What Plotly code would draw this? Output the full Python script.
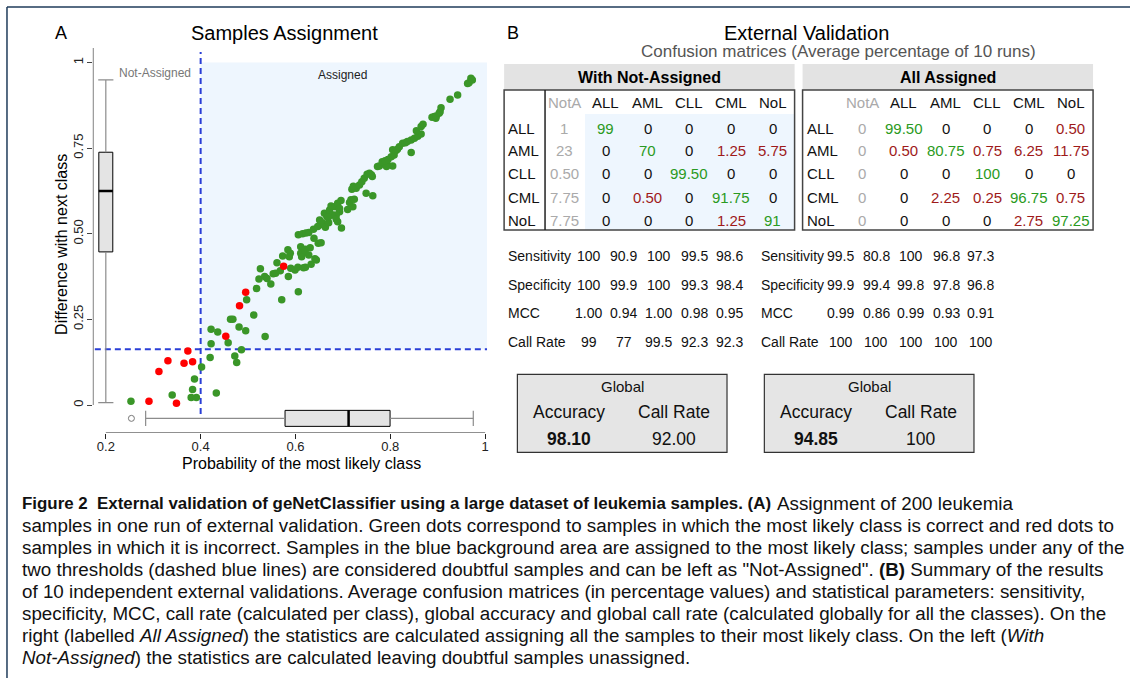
import plotly.graph_objects as go

W, H = 1132, 678

# ---------------- Panel A data ----------------
green_x = [0.253, 0.340, 0.380, 0.391, 0.383, 0.387, 0.402, 0.433, 0.420, 0.422, 0.422, 0.436, 0.458, 0.472,
           0.476, 0.486, 0.463, 0.468, 0.481, 0.495, 0.497, 0.512, 0.536, 0.518, 0.523, 0.526, 0.535, 0.540,
           0.548, 0.571, 0.606, 0.553, 0.558, 0.561, 0.568, 0.585, 0.590, 0.599, 0.605, 0.617, 0.621, 0.633,
           0.644, 0.641, 0.573, 0.584, 0.589, 0.587, 0.611, 0.615, 0.621, 0.631, 0.611, 0.620, 0.613, 0.628,
           0.639, 0.648, 0.654, 0.606, 0.615, 0.622, 0.628, 0.638, 0.647, 0.653, 0.657, 0.663, 0.697, 0.651,
           0.661, 0.666, 0.670, 0.679, 0.689, 0.672, 0.675, 0.684, 0.689, 0.696, 0.693, 0.686, 0.710, 0.721,
           0.714, 0.717, 0.724, 0.749, 0.763, 0.719, 0.728, 0.722, 0.735, 0.740, 0.745, 0.751, 0.762, 0.756,
           0.760, 0.777, 0.784, 0.794, 0.805, 0.792, 0.773, 0.783, 0.789, 0.795, 0.802, 0.808, 0.805, 0.812,
           0.815, 0.819, 0.844, 0.826, 0.832, 0.836, 0.844, 0.851, 0.858, 0.865, 0.855, 0.865, 0.869, 0.888,
           0.896, 0.893, 0.897, 0.903, 0.905, 0.907, 0.926, 0.942, 0.963, 0.966, 0.970, 0.973, 0.676, 0.686,
           0.693, 0.669]
green_y = [0.011, 0.029, 0.022, 0.022, 0.045, 0.076, 0.111, 0.035, 0.139, 0.179, 0.221, 0.213, 0.182, 0.143,
           0.124, 0.161, 0.250, 0.250, 0.228, 0.217, 0.307, 0.263, 0.200, 0.340, 0.368, 0.398, 0.375, 0.369,
           0.353, 0.307, 0.331, 0.383, 0.385, 0.415, 0.392, 0.375, 0.399, 0.394, 0.402, 0.401, 0.402, 0.411,
           0.423, 0.427, 0.435, 0.453, 0.443, 0.433, 0.462, 0.453, 0.455, 0.459, 0.443, 0.445, 0.433, 0.438,
           0.487, 0.472, 0.474, 0.497, 0.500, 0.502, 0.504, 0.513, 0.521, 0.527, 0.532, 0.519, 0.517, 0.540,
           0.560, 0.550, 0.532, 0.555, 0.535, 0.569, 0.581, 0.579, 0.589, 0.597, 0.564, 0.555, 0.571, 0.579,
           0.591, 0.599, 0.601, 0.618, 0.611, 0.630, 0.633, 0.639, 0.642, 0.652, 0.662, 0.674, 0.667, 0.677,
           0.672, 0.698, 0.706, 0.701, 0.698, 0.696, 0.696, 0.710, 0.713, 0.717, 0.725, 0.730, 0.745, 0.743,
           0.747, 0.754, 0.737, 0.764, 0.766, 0.769, 0.774, 0.779, 0.785, 0.791, 0.801, 0.813, 0.820, 0.840,
           0.837, 0.842, 0.844, 0.852, 0.856, 0.868, 0.893, 0.905, 0.939, 0.941, 0.954, 0.949, 0.555, 0.542,
           0.574, 0.548]
red_x = [0.291, 0.349, 0.312, 0.331, 0.365, 0.383, 0.373, 0.453, 0.482, 0.495, 0.575]
red_y = [0.011, 0.005, 0.098, 0.129, 0.122, 0.126, 0.158, 0.201, 0.290, 0.329, 0.405]

# boxplot summaries
diff_box = [0.007, 0.447, 0.625, 0.738, 0.949]       # lower whisker, q1, median, q3, upper whisker
prob_box = [0.284, 0.578, 0.712, 0.7995, 0.975]
prob_outliers = [0.254]
prob_threshold = 0.40
diff_threshold = 0.163

x_ticks = [0.2, 0.4, 0.6, 0.8, 1.0]
x_ticktext = ['0.2', '0.4', '0.6', '0.8', '1']
y_ticks = [0, 0.25, 0.5, 0.75, 1.0]
y_ticktext = ['0', '0.25', '0.50', '0.75', '1']

# ---------------- Panel B data ----------------
mat_cols = ['NotA', 'ALL', 'AML', 'CLL', 'CML', 'NoL']
classes = ['ALL', 'AML', 'CLL', 'CML', 'NoL']
cm_with_na = [[1, 99, 0, 0, 0, 0],
              [23, 0, 70, 0, 1.25, 5.75],
              [0.5, 0, 0, 99.5, 0, 0],
              [7.75, 0, 0.5, 0, 91.75, 0],
              [7.75, 0, 0, 0, 1.25, 91]]
cm_all = [[0, 99.5, 0, 0, 0, 0.5],
          [0, 0.5, 80.75, 0.75, 6.25, 11.75],
          [0, 0, 0, 100, 0, 0],
          [0, 0, 2.25, 0.25, 96.75, 0.75],
          [0, 0, 0, 0, 2.75, 97.25]]
stat_names = ['Sensitivity', 'Specificity', 'MCC', 'Call Rate']
stats_with_na = [[100, 90.9, 100, 99.5, 98.6],
                 [100, 99.9, 100, 99.3, 98.4],
                 [1.00, 0.94, 1.00, 0.98, 0.95],
                 [99, 77, 99.5, 92.3, 92.3]]
stats_all = [[99.5, 80.8, 100, 96.8, 97.3],
             [99.9, 99.4, 99.8, 97.8, 96.8],
             [0.99, 0.86, 0.99, 0.93, 0.91],
             [100, 100, 100, 100, 100]]
global_with_na = [98.10, 92.00]
global_all = [94.85, 100]

caption_head = "Figure 2  External validation of geNetClassifier using a large dataset of leukemia samples. (A)"
caption_lines = [
    "Assignment of 200 leukemia",
    "samples in one run of external validation. Green dots correspond to samples in which the most likely class is correct and red dots to",
    "samples in which it is incorrect. Samples in the blue background area are assigned to the most likely class; samples under any of the",
    "two thresholds (dashed blue lines) are considered doubtful samples and can be left as \"Not-Assigned\". <b>(B)</b> Summary of the results",
    "of 10 independent external validations. Average confusion matrices (in percentage values) and statistical parameters: sensitivity,",
    "specificity, MCC, call rate (calculated per class), global accuracy and global call rate (calculated globally for all the classes). On the",
    "right (labelled <i>All Assigned</i>) the statistics are calculated assigning all the samples to their most likely class. On the left (<i>With</i>",
    "<i>Not-Assigned</i>) the statistics are calculated leaving doubtful samples unassigned.",
]

# ---------------- helpers (layout) ----------------
SANS = "Liberation Sans, Arial, sans-serif"
GREEN_T = '#2a9a22'
RED_T = '#9e1a1a'
GRAY_T = '#aaaaaa'


def PX(p):
    return p / W


def PY(p):
    return 1 - p / H


def xdat(p):  # pixel -> data (panel A)
    return 0.2 + (p - 106) / 475.0


def ydat(p):
    return (405 - p) / 342.5


def fmt_cm(v):
    return str(int(v)) if float(v).is_integer() else f"{v:.2f}"


def fmt_stat(row, v):
    return f"{v:.2f}" if row == 2 else f"{v:g}"


def fmt_glob(v):
    return str(int(v)) if v == 100 else f"{v:.2f}"


fig = go.Figure()
ann = []
shapes = []

# ---- Panel A boxes ----
bw_v = 14 / 475.0
bw_h = 16 / 342.5
box_line = dict(color='black', width=1)
fig.add_trace(go.Box(x=[0.2], q1=[diff_box[1]], median=[diff_box[2]], q3=[diff_box[3]],
                     lowerfence=[diff_box[1]], upperfence=[diff_box[3]], width=bw_v,
                     fillcolor='#e4e4e4', line=box_line, whiskerwidth=0, boxpoints=False,
                     orientation='v', showlegend=False, hoverinfo='skip'))
yb = -0.039
fig.add_trace(go.Box(y=[yb], q1=[prob_box[1]], median=[prob_box[2]], q3=[prob_box[3]],
                     lowerfence=[prob_box[1]], upperfence=[prob_box[3]], width=bw_h,
                     fillcolor='#e4e4e4', line=box_line, whiskerwidth=0, boxpoints=False,
                     orientation='h', showlegend=False, hoverinfo='skip'))
wc = '#8c8c8c'
cap_v = 0.016
cap_h = 0.022
fig.add_trace(go.Scatter(
    x=[0.2, 0.2, None, 0.2, 0.2, None, 0.2 - cap_v, 0.2 + cap_v, None, 0.2 - cap_v, 0.2 + cap_v],
    y=[diff_box[0], diff_box[1], None, diff_box[3], diff_box[4], None, diff_box[0], diff_box[0], None,
       diff_box[4], diff_box[4]],
    mode='lines', line=dict(color=wc, width=1.2), showlegend=False, hoverinfo='skip'))
fig.add_trace(go.Scatter(
    x=[prob_box[0], prob_box[1], None, prob_box[3], prob_box[4], None, prob_box[0], prob_box[0], None,
       prob_box[4], prob_box[4]],
    y=[yb, yb, None, yb, yb, None, yb - cap_h, yb + cap_h, None, yb - cap_h, yb + cap_h],
    mode='lines', line=dict(color=wc, width=1.2), showlegend=False, hoverinfo='skip'))
fig.add_trace(go.Scatter(x=[0.2 - bw_v / 2, 0.2 + bw_v / 2], y=[diff_box[2], diff_box[2]], mode='lines',
                         line=dict(color='black', width=2.5), showlegend=False, hoverinfo='skip'))
fig.add_trace(go.Scatter(x=[prob_box[2], prob_box[2]], y=[yb - bw_h / 2, yb + bw_h / 2], mode='lines',
                         line=dict(color='black', width=2.5), showlegend=False, hoverinfo='skip'))
fig.add_trace(go.Scatter(x=prob_outliers, y=[yb] * len(prob_outliers), mode='markers',
                         marker=dict(symbol='circle-open', size=6, color='#777777', line=dict(width=1)),
                         showlegend=False, hoverinfo='skip'))

# ---- scatter ----
fig.add_trace(go.Scatter(x=green_x, y=green_y, mode='markers',
                         marker=dict(color='#3a9628', size=7.5, line=dict(width=0)), showlegend=False))
fig.add_trace(go.Scatter(x=red_x, y=red_y, mode='markers',
                         marker=dict(color='#ff0000', size=7.5, line=dict(width=0)), showlegend=False))

# ---- Panel A shapes ----
x_lo, x_hi = xdat(93), xdat(488)
y_lo, y_hi = ydat(433), ydat(48)
shapes.append(dict(type='rect', xref='x', yref='y', x0=prob_threshold, x1=x_hi, y0=diff_threshold, y1=1.0,
                   fillcolor='#eef6fe', line=dict(width=0), layer='below'))
dash_col = '#2a3fd6'
shapes.append(dict(type='line', xref='x', yref='y', x0=prob_threshold, x1=prob_threshold,
                   y0=ydat(414), y1=ydat(52), line=dict(color=dash_col, width=2, dash='6px,4px'), layer='below'))
shapes.append(dict(type='line', xref='x', yref='y', x0=xdat(95), x1=x_hi,
                   y0=diff_threshold, y1=diff_threshold, line=dict(color=dash_col, width=2, dash='6px,4px'),
                   layer='below'))
shapes.append(dict(type='line', xref='x', yref='y', x0=0.2, x1=1.0, y0=y_lo, y1=y_lo,
                   line=dict(color='#222', width=1.2)))
shapes.append(dict(type='line', xref='x', yref='y', x0=x_lo, x1=x_lo, y0=0, y1=y_hi,
                   line=dict(color='#222', width=1.2)))

ann.append(dict(x=PX(155), y=PY(73), text='Not-Assigned', font=dict(family=SANS, size=12, color='#777777')))
ann.append(dict(x=PX(343), y=PY(75), text='Assigned', font=dict(family=SANS, size=12, color='#222222')))
ann.append(dict(x=PX(61), y=PY(33), text='A', font=dict(family=SANS, size=18, color='black')))
ann.append(dict(x=PX(285), y=PY(33), text='Samples Assignment', font=dict(family=SANS, size=20, color='black')))
ann.append(dict(x=PX(302), y=PY(463), text='Probability of the most likely class',
                font=dict(family=SANS, size=16, color='black')))
ann.append(dict(x=PX(62), y=PY(244), text='Difference with next class', textangle=-90,
                font=dict(family=SANS, size=16, color='black')))

# ---------------- Panel B ----------------
ann.append(dict(x=PX(514), y=PY(33), text='B', font=dict(family=SANS, size=18, color='black')))
ann.append(dict(x=PX(808), y=PY(33), text='External Validation', font=dict(family=SANS, size=20, color='black')))
ann.append(dict(x=PX(840), y=PY(51), text='Confusion matrices (Average percentage of 10 runs)',
                font=dict(family=SANS, size=17, color='#555555')))

tables = [
    dict(title='With Not-Assigned', x0=505, x1=796, cm=cm_with_na, label_x=507,
         col_x=[565.3, 606.7, 648.7, 690.3, 732.3, 774], sep=True, bg=True),
    dict(title='All Assigned', x0=804, x1=1095, cm=cm_all, label_x=806,
         col_x=[864, 905.3, 947.3, 989, 1030.7, 1072.7], sep=False, bg=False),
]
row_y = [128, 150.5, 174, 197.5, 220]
head_y = 103
for t in tables:
    shapes.append(dict(type='rect', xref='paper', yref='paper', x0=PX(t['x0']), x1=PX(t['x1']),
                       y0=PY(90), y1=PY(64), fillcolor='#e3e3e3', line=dict(width=0), layer='below'))
    if t['bg']:
        shapes.append(dict(type='rect', xref='paper', yref='paper', x0=PX(586), x1=PX(t['x1']),
                           y0=PY(230), y1=PY(114), fillcolor='#eef6fe', line=dict(width=0), layer='below'))
    shapes.append(dict(type='rect', xref='paper', yref='paper', x0=PX(t['x0']), x1=PX(t['x1']),
                       y0=PY(230), y1=PY(90), line=dict(color='#444', width=1.5)))
    if t['sep']:
        shapes.append(dict(type='line', xref='paper', yref='paper', x0=PX(546), x1=PX(546),
                           y0=PY(230), y1=PY(90), line=dict(color='#222', width=1.5)))
    ann.append(dict(x=PX((t['x0'] + t['x1']) / 2), y=PY(77), text='<b>' + t['title'] + '</b>',
                    font=dict(family=SANS, size=16, color='black')))
    for j, c in enumerate(mat_cols):
        ann.append(dict(x=PX(t['col_x'][j]), y=PY(head_y), text=c,
                        font=dict(family=SANS, size=15, color=GRAY_T if j == 0 else '#111')))
    for i, r in enumerate(classes):
        ann.append(dict(x=PX(t['label_x']), y=PY(row_y[i]), text=r, xanchor='left',
                        font=dict(family=SANS, size=15, color='#111')))
        for j, v in enumerate(t['cm'][i]):
            if j == 0:
                col = GRAY_T
            elif j - 1 == i:
                col = GREEN_T
            elif v != 0:
                col = RED_T
            else:
                col = '#111'
            ann.append(dict(x=PX(t['col_x'][j]), y=PY(row_y[i]), text=fmt_cm(v),
                            font=dict(family=SANS, size=15, color=col)))

stat_y = [256, 284.5, 313, 341.5]
stat_blocks = [
    dict(stats=stats_with_na, label_x=507, col_x=[590, 625, 660, 696, 731]),
    dict(stats=stats_all, label_x=760, col_x=[842, 877.7, 912.3, 947.7, 982.3]),
]
for b in stat_blocks:
    for i, name in enumerate(stat_names):
        ann.append(dict(x=PX(b['label_x']), y=PY(stat_y[i]), text=name, xanchor='left',
                        font=dict(family=SANS, size=14, color='#111')))
        for j, v in enumerate(b['stats'][i]):
            ann.append(dict(x=PX(b['col_x'][j]), y=PY(stat_y[i]), text=fmt_stat(i, v),
                            font=dict(family=SANS, size=14, color='#111')))

glob_boxes = [dict(x0=518.3, x1=728.3, vals=global_with_na), dict(x0=765.7, x1=975.7, vals=global_all)]
for g in glob_boxes:
    shapes.append(dict(type='rect', xref='paper', yref='paper', x0=PX(g['x0']), x1=PX(g['x1']),
                       y0=PY(452.3), y1=PY(374.3), fillcolor='#e5e5e5', line=dict(color='#333', width=1.2),
                       layer='below'))
    cx = (g['x0'] + g['x1']) / 2
    ax, bx = g['x0'] + 52, g['x0'] + 156.5
    ann.append(dict(x=PX(cx), y=PY(386), text='Global', font=dict(family=SANS, size=15, color='#111')))
    ann.append(dict(x=PX(ax), y=PY(412), text='Accuracy', font=dict(family=SANS, size=17.5, color='#111')))
    ann.append(dict(x=PX(bx), y=PY(412), text='Call Rate', font=dict(family=SANS, size=17.5, color='#111')))
    ann.append(dict(x=PX(ax), y=PY(439.5), text='<b>' + fmt_glob(g['vals'][0]) + '</b>',
                    font=dict(family=SANS, size=17.5, color='#111')))
    ann.append(dict(x=PX(bx), y=PY(439.5), text=fmt_glob(g['vals'][1]),
                    font=dict(family=SANS, size=17.5, color='#111')))

# ---------------- caption ----------------
ann.append(dict(x=PX(20), y=PY(503), text='<b>' + caption_head + '</b>', xanchor='left',
                font=dict(family=SANS, size=16.9, color='#111')))
for k, line in enumerate(caption_lines):
    ann.append(dict(x=PX(776 if k == 0 else 20), y=PY(503 + k * 22), text=line, xanchor='left',
                    font=dict(family=SANS, size=18.8, color='#111')))

# figure frame (top and left border)
shapes.append(dict(type='line', xref='paper', yref='paper', x0=PX(7), x1=1, y0=PY(7), y1=PY(7),
                   line=dict(color='#1f3b5a', width=1.5)))
shapes.append(dict(type='line', xref='paper', yref='paper', x0=PX(7), x1=PX(7), y0=0, y1=PY(7),
                   line=dict(color='#1f3b5a', width=1.5)))

for a in ann:
    a.setdefault('xref', 'paper')
    a.setdefault('yref', 'paper')
    a.setdefault('showarrow', False)
    a.setdefault('xanchor', 'center')
    a.setdefault('yanchor', 'middle')

fig.update_layout(
    width=W, height=H, margin=dict(l=0, r=0, t=0, b=0),
    paper_bgcolor='white', plot_bgcolor='rgba(0,0,0,0)',
    showlegend=False, shapes=shapes, annotations=ann,
    xaxis=dict(domain=[PX(93), PX(488)], range=[x_lo, x_hi], tickvals=x_ticks, ticktext=x_ticktext,
               ticks='outside', ticklen=5, tickcolor='#222', showgrid=False, zeroline=False, showline=False,
               ticklabelstandoff=-4,
               tickfont=dict(family=SANS, size=13, color='#222'), fixedrange=True),
    yaxis=dict(domain=[PY(433), PY(48)], range=[y_lo, y_hi], tickvals=y_ticks, ticktext=y_ticktext,
               ticks='outside', ticklen=5, tickcolor='#444', showgrid=False, zeroline=False, showline=False,
               ticklabelstandoff=-1,
               tickangle=-90, tickfont=dict(family=SANS, size=13, color='#222'), fixedrange=True),
)

fig.write_html("out.html")
